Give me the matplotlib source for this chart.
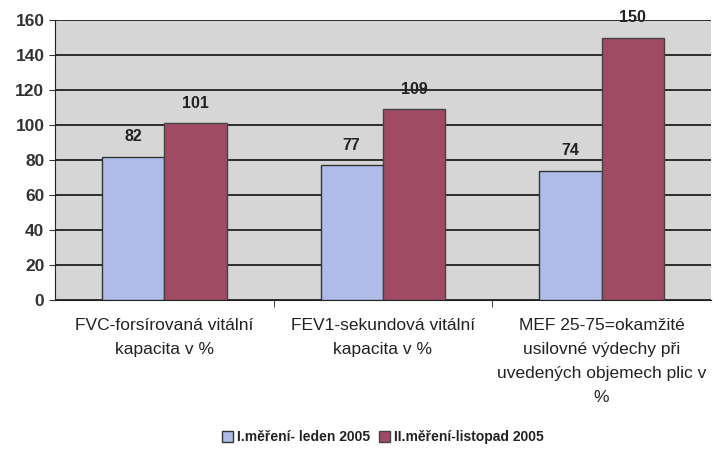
import numpy as np
import matplotlib
matplotlib.use("Agg")
import matplotlib.pyplot as plt

categories = ["FVC-forsírovaná vitální\nkapacita v %",
              "FEV1-sekundová vitální\nkapacita v %",
              "MEF 25-75=okamžité\nusilovné výdechy při\nuvedených objemech plic v\n%"]
mereni_1 = [82, 77, 74]
mereni_2 = [101, 109, 150]
series_names = ["I.měření- leden 2005", "II.měření-listopad 2005"]
yticks = [0, 20, 40, 60, 80, 100, 120, 140, 160]

plt.rcParams['font.family'] = ['Liberation Sans', 'DejaVu Sans']

fig = plt.figure(figsize=(7.13, 4.59), dpi=100)
ax = fig.add_axes([0.077, 0.346, 0.92, 0.61])
ax.set_facecolor('#d6d6d6')

x = np.arange(len(categories))
w = 0.285
b1 = ax.bar(x - w / 2, mereni_1, w, color='#b0bce8', edgecolor='#333333', linewidth=1, zorder=3,
            label=series_names[0])
b2 = ax.bar(x + w / 2, mereni_2, w, color='#a04a64', edgecolor='#444444', linewidth=1, zorder=3,
            label=series_names[1])

for bars in (b1, b2):
    for r in bars:
        ax.text(r.get_x() + r.get_width() / 2, r.get_height() + 7, str(int(r.get_height())),
                ha='center', va='bottom', fontsize=11.5, fontweight='bold', color='#222222', zorder=4)

ax.set_xlim(-0.5, len(categories) - 0.5)
ax.set_ylim(0, 160)
ax.set_yticks(yticks)
ax.yaxis.grid(True, color='#111111', linewidth=1.2, zorder=1)
ax.set_axisbelow(True)
for s in ['top', 'right']:
    ax.spines[s].set_visible(False)
ax.spines['left'].set_color('#222222')
ax.spines['bottom'].set_color('#222222')

ax.set_xticks([0.5, 1.5], minor=True)
ax.set_xticks(x)
ax.set_xticklabels(categories, fontsize=12.5, color='#222222', linespacing=1.75)
ax.tick_params(axis='x', which='major', length=0, pad=13)
ax.tick_params(axis='x', which='minor', length=5, direction='out', color='#222222')
ax.tick_params(axis='y', labelsize=12.5, colors='#333333', length=4, direction='out')
for t in ax.get_yticklabels():
    t.set_fontweight('bold')

fig.legend(loc='lower center', bbox_to_anchor=(0.537, 0.005), ncol=2, frameon=False,
           prop={'size': 10, 'weight': 'bold'}, handlelength=0.8, handleheight=0.8,
           handletextpad=0.3, columnspacing=0.6, labelcolor='#222222')

plt.savefig("out.png", dpi=100)
